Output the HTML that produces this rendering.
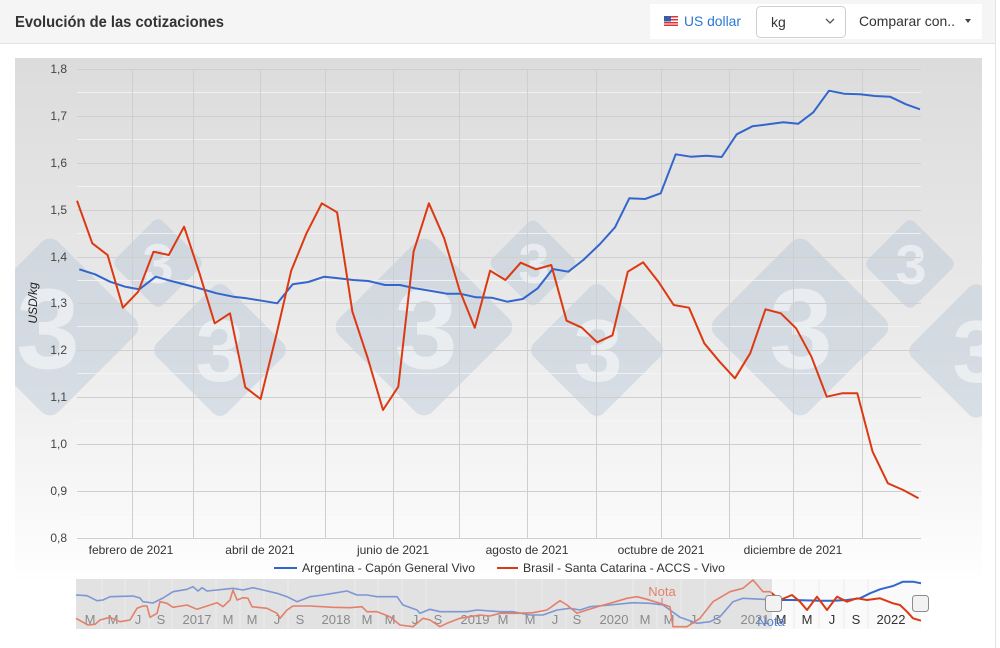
<!DOCTYPE html>
<html><head><meta charset="utf-8"><style>
html,body{margin:0;padding:0;background:#fff;width:1000px;height:648px;overflow:hidden}
svg{display:block;font-family:"Liberation Sans",sans-serif}
</style></head><body>
<svg width="1000" height="648" viewBox="0 0 1000 648" xmlns="http://www.w3.org/2000/svg">
<defs>
<linearGradient id="bg" x1="0" y1="0" x2="0" y2="1">
<stop offset="0" stop-color="#dcdcdc"/>
<stop offset="0.55" stop-color="#ebebeb"/>
<stop offset="1" stop-color="#fefefe"/>
</linearGradient>
<clipPath id="box"><rect x="15" y="58" width="967" height="520"/></clipPath>
<clipPath id="navL"><rect x="76" y="579" width="696" height="50"/></clipPath>
<clipPath id="navR"><rect x="772" y="579" width="149" height="50"/></clipPath>
</defs>
<!-- header -->
<rect x="0" y="0" width="995" height="43" fill="#f5f5f5"/>
<line x1="0" y1="43.5" x2="995" y2="43.5" stroke="#e2e2e2"/>
<line x1="995.5" y1="0" x2="995.5" y2="648" stroke="#e4e4e4"/>
<text x="15" y="27" font-size="16" font-weight="bold" fill="#333" textLength="209" lengthAdjust="spacingAndGlyphs">Evolución de las cotizaciones</text>
<rect x="650" y="4" width="332" height="35" fill="#fff"/>
<g>
<rect x="664" y="16" width="14" height="10" fill="#fff"/>
<rect x="664" y="16" width="14" height="1.5" fill="#d33"/>
<rect x="664" y="19" width="14" height="1.5" fill="#d33"/>
<rect x="664" y="22" width="14" height="1.5" fill="#d33"/>
<rect x="664" y="24.5" width="14" height="1.5" fill="#d33"/>
<rect x="664" y="16" width="7" height="5.5" fill="#3b5aa8"/>
</g>
<text x="684" y="26" font-size="14" fill="#2a78d2" textLength="57" lengthAdjust="spacingAndGlyphs">US dollar</text>
<rect x="756.5" y="6.5" width="89" height="31" rx="4" fill="#fff" stroke="#cfcfcf"/>
<text x="771" y="27" font-size="14" fill="#333">kg</text>
<path d="M826 19 l4 4 l4 -4" fill="none" stroke="#555" stroke-width="1.3"/>
<text x="859" y="26" font-size="14" fill="#333" textLength="96" lengthAdjust="spacingAndGlyphs">Comparar con..</text>
<path d="M965 19 l6 0 l-3 4 z" fill="#444"/>

<!-- chart bg -->
<rect x="15" y="58" width="967" height="520" fill="url(#bg)"/>
<!-- watermarks -->
<g clip-path="url(#box)">
<g fill="#aebfd3" fill-opacity="0.38">
<rect x="-66" y="-66" width="132" height="132" rx="12" transform="translate(50,327) rotate(45)"/>
<rect x="-33" y="-33" width="66" height="66" rx="7" transform="translate(158,263) rotate(45)"/>
<rect x="-49.5" y="-49.5" width="99" height="99" rx="10" transform="translate(220,350) rotate(45)"/>
<rect x="-66" y="-66" width="132" height="132" rx="12" transform="translate(424,327) rotate(45)"/>
<rect x="-32" y="-32" width="64" height="64" rx="7" transform="translate(533,263) rotate(45)"/>
<rect x="-49.5" y="-49.5" width="99" height="99" rx="10" transform="translate(597,350) rotate(45)"/>
<rect x="-66" y="-66" width="132" height="132" rx="12" transform="translate(800,327) rotate(45)"/>
<rect x="-33" y="-33" width="66" height="66" rx="7" transform="translate(910,264) rotate(45)"/>
<rect x="-50" y="-50" width="100" height="100" rx="10" transform="translate(976,351) rotate(45)"/>
</g>
<g fill="#ffffff" fill-opacity="0.5" font-weight="bold" text-anchor="middle">
<text x="48" y="368" font-size="114">3</text>
<text x="158" y="283" font-size="56">3</text>
<text x="220" y="381" font-size="88">3</text>
<text x="426" y="368" font-size="114">3</text>
<text x="534" y="283" font-size="56">3</text>
<text x="598" y="381" font-size="88">3</text>
<text x="801" y="368" font-size="114">3</text>
<text x="911" y="284" font-size="56">3</text>
<text x="977" y="382" font-size="88">3</text>
</g>
</g>
<!-- minor gridlines -->
<g stroke="#f6f6f6" stroke-width="1" opacity="0.8">
<line x1="77" x2="921" y1="92.5" y2="92.5"/><line x1="77" x2="921" y1="139.5" y2="139.5"/><line x1="77" x2="921" y1="186.5" y2="186.5"/><line x1="77" x2="921" y1="233.5" y2="233.5"/><line x1="77" x2="921" y1="280.5" y2="280.5"/><line x1="77" x2="921" y1="326.5" y2="326.5"/><line x1="77" x2="921" y1="373.5" y2="373.5"/><line x1="77" x2="921" y1="420.5" y2="420.5"/><line x1="77" x2="921" y1="467.5" y2="467.5"/><line x1="77" x2="921" y1="514.5" y2="514.5"/>
</g>
<!-- major gridlines -->
<g stroke="#cfcfcf" stroke-width="1">
<line x1="77" x2="921" y1="69.5" y2="69.5"/><line x1="77" x2="921" y1="116.5" y2="116.5"/><line x1="77" x2="921" y1="163.5" y2="163.5"/><line x1="77" x2="921" y1="210.5" y2="210.5"/><line x1="77" x2="921" y1="257.5" y2="257.5"/><line x1="77" x2="921" y1="303.5" y2="303.5"/><line x1="77" x2="921" y1="350.5" y2="350.5"/><line x1="77" x2="921" y1="397.5" y2="397.5"/><line x1="77" x2="921" y1="444.5" y2="444.5"/><line x1="77" x2="921" y1="491.5" y2="491.5"/><line x1="77" x2="921" y1="538.5" y2="538.5"/>
<line x1="132.5" x2="132.5" y1="69" y2="538"/><line x1="193.5" x2="193.5" y1="69" y2="538"/><line x1="260.5" x2="260.5" y1="69" y2="538"/><line x1="325.5" x2="325.5" y1="69" y2="538"/><line x1="393.5" x2="393.5" y1="69" y2="538"/><line x1="459.5" x2="459.5" y1="69" y2="538"/><line x1="527.5" x2="527.5" y1="69" y2="538"/><line x1="596.5" x2="596.5" y1="69" y2="538"/><line x1="661.5" x2="661.5" y1="69" y2="538"/><line x1="729.5" x2="729.5" y1="69" y2="538"/><line x1="793.5" x2="793.5" y1="69" y2="538"/><line x1="862.5" x2="862.5" y1="69" y2="538"/>
</g>
<!-- y labels -->
<g font-size="12" fill="#444" text-anchor="end">
<text x="67" y="73">1,8</text><text x="67" y="120">1,7</text><text x="67" y="167">1,6</text><text x="67" y="214">1,5</text><text x="67" y="261">1,4</text><text x="67" y="307">1,3</text><text x="67" y="354">1,2</text><text x="67" y="401">1,1</text><text x="67" y="448">1,0</text><text x="67" y="495">0,9</text><text x="67" y="542">0,8</text>
</g>
<text transform="translate(37,303) rotate(-90)" font-size="12" font-style="italic" fill="#222" text-anchor="middle">USD/kg</text>
<!-- x labels -->
<g font-size="12" fill="#333" text-anchor="middle">
<text x="131" y="554">febrero de 2021</text><text x="260" y="554">abril de 2021</text><text x="393" y="554">junio de 2021</text><text x="527" y="554">agosto de 2021</text><text x="661" y="554">octubre de 2021</text><text x="793" y="554">diciembre de 2021</text>
</g>
<!-- series -->
<polyline fill="none" stroke="#3366cc" stroke-width="2" stroke-linejoin="round" points="79.3,269.3 95,274.3 110,281.7 125,286.7 139.3,289.3 155.7,276.7 170,280.7 186.7,285 201.7,289 216.7,293.3 233.3,296.7 246.7,298.3 261.7,300.7 277.3,303.3 292.7,284.3 308.3,282 324.3,276.7 338.3,278.3 353.3,280 368.3,281 385,285 400,285 415,288.3 431.7,291 446.7,293.7 460,293.7 476,297.3 491.7,297.7 507.3,301.7 522.7,299 537.7,288.3 552.7,269 568.3,271.7 583.3,260 600,244 615,227.3 629.3,198.3 645,199 660.7,193.3 675.7,154.3 690.7,156.7 706.7,155.7 721.7,157 736.7,134.3 752.3,126.3 768.3,124.3 783.3,122.3 798.3,123.7 813.3,112.3 829,90.7 844,93.7 860,94.3 875,96 890,96.7 906,104.3 920,109.3"/>
<polyline fill="none" stroke="#dc3912" stroke-width="2" stroke-linejoin="round" points="77,200.7 92.3,243.3 107.6,255 122.9,307.7 138.2,291.7 153.5,251.7 168.8,255 184.1,226.7 199.4,273 214.7,323.3 230,313.3 245.3,387.3 260.6,399 275.9,336.7 291.2,270.7 306.5,233.3 321.8,203.3 337.1,212.3 352.4,311.7 367.7,358 383,410 398.3,386.7 413.6,251.7 428.9,203.3 444.2,238.3 459.5,290 474.8,327.7 490.1,270.7 505.4,280 520.7,262.7 536,269.3 551.3,265 566.6,320.7 581.9,327.7 597.2,342.3 612.5,335.3 627.8,271.7 643.1,262.3 658.4,281.7 673.7,305 689,307.7 704.3,343.3 719.6,361.7 734.9,378.3 750.2,353.3 765.5,309.3 780.8,313.3 796.1,328.3 811.4,356.7 826.7,396.7 842,393.3 857.3,393.3 872.6,451.7 887.9,483.3 903.2,490 918.5,498.3"/>
<!-- legend -->
<line x1="274" x2="297" y1="568" y2="568" stroke="#3366cc" stroke-width="2"/>
<text x="302" y="572" font-size="12" fill="#333" textLength="173" lengthAdjust="spacingAndGlyphs">Argentina - Capón General Vivo</text>
<line x1="497" x2="518" y1="568" y2="568" stroke="#dc3912" stroke-width="2"/>
<text x="523" y="572" font-size="12" fill="#333" textLength="202" lengthAdjust="spacingAndGlyphs">Brasil - Santa Catarina - ACCS - Vivo</text>

<!-- navigator -->
<rect x="76" y="579" width="696" height="50" fill="#e2e2e2"/>
<rect x="772" y="579" width="149" height="50" fill="#fafafa"/>
<g stroke="#ececec" stroke-width="1">
<line x1="102" x2="102" y1="579" y2="629"/><line x1="125" x2="125" y1="579" y2="629"/><line x1="149" x2="149" y1="579" y2="629"/><line x1="172" x2="172" y1="579" y2="629"/><line x1="216" x2="216" y1="579" y2="629"/><line x1="240" x2="240" y1="579" y2="629"/><line x1="264" x2="264" y1="579" y2="629"/><line x1="288" x2="288" y1="579" y2="629"/><line x1="355" x2="355" y1="579" y2="629"/><line x1="378" x2="378" y1="579" y2="629"/><line x1="402" x2="402" y1="579" y2="629"/><line x1="426" x2="426" y1="579" y2="629"/><line x1="516" x2="516" y1="579" y2="629"/><line x1="542" x2="542" y1="579" y2="629"/><line x1="566" x2="566" y1="579" y2="629"/><line x1="633" x2="633" y1="579" y2="629"/><line x1="657" x2="657" y1="579" y2="629"/><line x1="681" x2="681" y1="579" y2="629"/><line x1="705" x2="705" y1="579" y2="629"/>
<line x1="794" x2="794" y1="579" y2="629"/><line x1="819" x2="819" y1="579" y2="629"/><line x1="844" x2="844" y1="579" y2="629"/><line x1="868" x2="868" y1="579" y2="629"/>
</g>
<g font-size="13" fill="#8a8a8a" text-anchor="middle">
<text x="90" y="624">M</text><text x="113" y="624">M</text><text x="138" y="624">J</text><text x="161" y="624">S</text><text x="197" y="624">2017</text><text x="228" y="624">M</text><text x="252" y="624">M</text><text x="277" y="624">J</text><text x="300" y="624">S</text><text x="336" y="624">2018</text><text x="367" y="624">M</text><text x="390" y="624">M</text><text x="415" y="624">J</text><text x="438" y="624">S</text><text x="475" y="624">2019</text><text x="503" y="624">M</text><text x="530" y="624">M</text><text x="555" y="624">J</text><text x="577" y="624">S</text><text x="614" y="624">2020</text><text x="645" y="624">M</text><text x="669" y="624">M</text><text x="693" y="624">J</text><text x="717" y="624">S</text><text x="755" y="624">2021</text>
</g>
<g font-size="13" fill="#333" text-anchor="middle">
<text x="781" y="624">M</text><text x="807" y="624">M</text><text x="832" y="624">J</text><text x="856" y="624">S</text><text x="891" y="624">2022</text>
</g>
<g clip-path="url(#navL)" fill="none" stroke-width="1.6" stroke-linejoin="round">
<polyline stroke="#7d97d4" points="76,595 87,595.7 97,600.7 103,600 110,596.7 133,596 140,598 143,601.7 153,603 163,598 173,591.7 187,589.3 193,586.7 198,591 202,587.7 207,591 217,590 233,588.3 243,590 253,587.7 263,590 277,593.3 287,596.7 297,601.7 310,596.7 323,595 333,593.3 347,591 357,595 367,595 377,596.7 397,596.7 403,605 417,610 420,613.3 430,609.3 440,611.7 467,611.7 477,610 500,611.7 513,611.7 530,615 543,615 557,610 570,608.3 580,610 590,606.7 610,605 633,602.7 650,603.3 663,605 670,610 680,617.3 697,623.3 710,621.7 720,616.7 733,601.7 743,598.3 763,599.3 777,600"/>
<polyline stroke="#e2806b" points="76,618.3 82,621.7 88,625 95,624.3 100,620 110,617.3 120,621.7 130,620 137,608.3 143,606 147,606 150,617.3 157,613.3 160,601.7 167,603.3 173,607.3 187,605 197,609.3 207,606 217,602.7 223,606.7 230,600 233,590 237,600 243,597.7 248,598.3 252,606.7 267,608.3 277,613.3 280,618.3 287,610 293,606 310,606 333,607.3 350,607.7 362,606.7 367,611.7 377,611.7 390,616.7 400,625 413,626.7 423,618.3 430,620 440,626.7 447,623.3 460,618.3 480,615 490,616 500,613.3 517,613.3 533,612.7 547,610 560,600.7 567,605 577,613.3 587,610 600,606 610,603.3 627,598.3 637,596.7 647,599.3 660,603.3 670,606.7 673,626.7 687,626.7 700,618.3 713,601.7 730,591.7 743,588.3 753,580 763,591.7 770,591.7 780,600"/>
</g>
<g clip-path="url(#navR)" fill="none" stroke-width="2" stroke-linejoin="round">
<polyline stroke="#3366cc" points="763,599.3 777,600 793,600 820,600.7 833,600.7 847,600 860,598.3 870,593.3 880,589.3 893,586 903,581.7 913,581.7 921,583.3"/>
<polyline stroke="#dc3912" points="770,591.7 780,600 792,595 800,601.7 807,610 817,596.7 827,610 837,596.7 847,601.7 857,598.3 867,600 880,598.3 893,603.3 900,605 907,611.7 913,618.3 921,620.7"/>
</g>
<text x="662" y="596" font-size="13" fill="#e2806b" text-anchor="middle">Nota</text>
<line x1="662" x2="662" y1="598" y2="604" stroke="#e2806b"/>
<rect x="765.5" y="595.5" width="16" height="16" rx="3" fill="#f2f2f2" stroke="#8c8c8c"/>
<rect x="912.5" y="595.5" width="16" height="16" rx="3" fill="#f2f2f2" stroke="#8c8c8c"/>
<text x="771" y="626" font-size="13" fill="#5b7fcf" text-anchor="middle">Nota</text>
</svg>
</body></html>
